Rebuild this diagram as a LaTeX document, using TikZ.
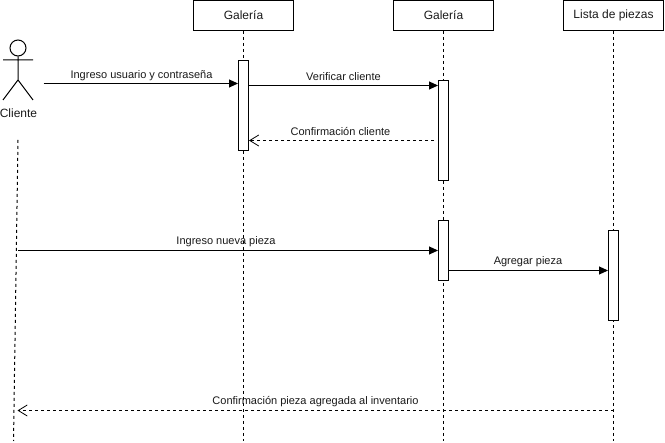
\documentclass[tikz,border=0pt]{standalone}
\usepackage{fontspec}
\setmainfont{Liberation Sans}
\usetikzlibrary{arrows.meta}
\definecolor{ink}{HTML}{000000}
\definecolor{txt}{HTML}{1A1A1A}
\tikzset{
  header/.style={draw=ink,fill=white,line width=1pt,minimum width=100pt,minimum height=30pt,inner sep=0pt,font=\fontsize{12}{14}\selectfont,text=txt},
  bar/.style={draw=ink,fill=white,line width=1pt,minimum width=10pt,inner sep=0pt},
  life/.style={draw=ink,line width=1pt,dash pattern=on 3pt off 3pt},
  call/.style={draw=ink,line width=1pt,-{Triangle[length=9pt,width=8pt]}},
  reply/.style={draw=ink,line width=1pt,dash pattern=on 3pt off 3pt,-{Straight Barb[length=9pt,width=11pt,line width=0.8pt]}},
  lab/.style={inner sep=0pt,text=txt,font=\fontsize{11}{13}\selectfont}
}
\begin{document}
\begin{tikzpicture}[x=1pt,y=-1pt]
\useasboundingbox[fill=white] (0,0) rectangle (665,443);
% lifeline headers
\node[header] (g1) at (243.5,15.5) {Galería};
\node[header] (g2) at (443.5,15.5) {Galería};
\node[header] (lp) at (613.5,15.5) {Lista de piezas};
% lifeline ends
\coordinate (g1e) at (243.5,441);
\coordinate (g2e) at (443.5,441);
\coordinate (lpe) at (613.5,441);
\coordinate (cs) at (18,140);
\coordinate (ce) at (13.5,441);
\draw[life] (g1) -- (g1e);
\draw[life] (g2) -- (g2e);
\draw[life] (lp) -- (lpe);
\draw[life] (cs) -- (ce);
% activations
\node[bar,minimum height=90pt] (a1) at (243.5,105.5) {};
\node[bar,minimum height=100pt] (a2) at (443.5,130.5) {};
\node[bar,minimum height=60pt] (a3) at (443.5,250.5) {};
\node[bar,minimum height=90pt] (a4) at (613.5,275.5) {};
% actor
\node[draw=ink,line width=1pt,circle,minimum size=16pt,inner sep=0pt] (head) at (18,48) {};
\coordinate (hip) at (18,80);
\coordinate (armL) at (3,60);
\coordinate (armR) at (33,60);
\coordinate (legL) at (3,100);
\coordinate (legR) at (33,100);
\draw[ink,line width=1pt] (head.south) -- (hip) (armL) -- (armR) (legL) -- (hip) -- (legR);
\node[lab,font=\fontsize{12}{14}\selectfont] (cliente) at (18.5,113.5) {Cliente};
% free ends
\coordinate (m1s) at (43.5,83.5);
\coordinate (m3s) at (434,140.5);
\coordinate (m6s) at (613.5,410.5);
% messages
\draw[call] (m1s) -- (a1.west |- m1s);
\draw[call] (a1.east |- 0,85.5) -- (a2.west |- 0,85.5);
\draw[reply] (m3s) -- (a1.east |- m3s);
\draw[call] (cs |- 0,250.5) -- (a3.west |- 0,250.5);
\draw[call] (a3.east |- 0,270.5) -- (a4.west |- 0,270.5);
\draw[reply] (m6s) -- (17.5,410.5);
% labels
\node[lab] (l1) at (141.5,75.5) {Ingreso usuario y contraseña};
\node[lab] (l2) at (343.5,76.5) {Verificar cliente};
\node[lab] (l3) at (340.5,132) {Confirmación cliente};
\node[lab] (l4) at (226,242) {Ingreso nueva pieza};
\node[lab] (l5) at (528,262) {Agregar pieza};
\node[lab] (l6) at (315.5,402) {Confirmación pieza agregada al inventario};
\end{tikzpicture}
\end{document}
